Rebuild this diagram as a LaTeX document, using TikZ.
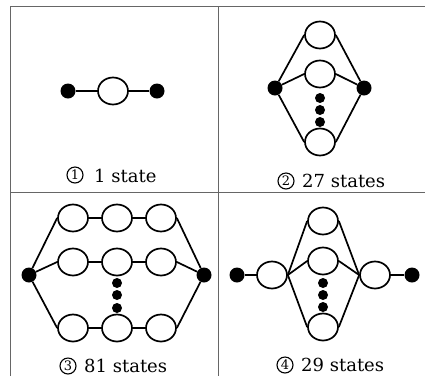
\documentclass[tikz,border=0pt]{standalone}
\usepackage{fontspec}
\setmainfont{DejaVu Serif}
\usetikzlibrary{shapes.geometric}
\begin{document}
\begin{tikzpicture}[x=1pt,y=-1pt,
  frame/.style={draw=black!60,line width=0.8pt},
  stnode/.style={ellipse,draw,line width=1.7pt,minimum width=30pt,minimum height=27pt,inner sep=0pt,fill=white},
  endnode/.style={circle,fill=black,minimum size=15pt,inner sep=0pt},
  smalldot/.style={circle,fill=black,minimum size=10pt,inner sep=0pt},
  conn/.style={draw,line width=1.7pt},
  numcirc/.style={circle,draw,line width=1.1pt,minimum size=16pt,inner sep=0pt,font=\fontsize{13}{13}\selectfont},
  lbl/.style={anchor=base west,inner sep=0pt,font=\fontsize{18}{20}\selectfont}]
\useasboundingbox (0,0) rectangle (425,376);
% frame
\draw[frame] (10,376) -- (10,6) -- (425,6);
\draw[frame] (218,6) -- (218,376);
\draw[frame] (10,192) -- (425,192);

% panel 1
\node[endnode] (d1a) at (68,91) {};
\node[stnode] (c1) at (113,91) {};
\node[endnode] (d1b) at (157,91) {};
\draw[conn] (d1a) -- (c1.west);
\draw[conn] (c1.east) -- (d1b);
\node[numcirc] (n1) at (75,175) {1};
\node[lbl] (t1) at (94,182) {1 state};

% panel 2
\node[endnode] (d2a) at (275,88) {};
\node[endnode] (d2b) at (364,88) {};
\node[stnode] (c2a) at (320,35) {};
\node[stnode] (c2b) at (320,74) {};
\node[stnode] (c2c) at (320,142) {};
\node[smalldot] (p2a) at (320,98) {};
\node[smalldot] (p2b) at (320,110) {};
\node[smalldot] (p2c) at (320,122) {};
\foreach \c in {c2a,c2b,c2c}{
  \draw[conn] (d2a) -- (\c.west);
  \draw[conn] (\c.east) -- (d2b);
}
\node[numcirc] (n2) at (286,181) {2};
\node[lbl] (t2) at (302,187) {27 states};

% panel 3
\node[endnode] (d3a) at (29,275) {};
\node[endnode] (d3b) at (204,275) {};
\foreach \r/\y in {a/218,b/262,c/328}{
  \node[stnode] (c3\r1) at (73,\y) {};
  \node[stnode] (c3\r2) at (117,\y) {};
  \node[stnode] (c3\r3) at (161,\y) {};
  \draw[conn] (d3a) -- (c3\r1.west);
  \draw[conn] (c3\r1.east) -- (c3\r2.west);
  \draw[conn] (c3\r2.east) -- (c3\r3.west);
  \draw[conn] (c3\r3.east) -- (d3b);
}
\node[smalldot] (p3a) at (117,283) {};
\node[smalldot] (p3b) at (117,295) {};
\node[smalldot] (p3c) at (117,308) {};
\node[numcirc] (n3) at (68,366) {3};
\node[lbl] (t3) at (84,372) {81 states};

% panel 4
\node[endnode] (d4a) at (237,275) {};
\node[stnode] (c4l) at (272,275) {};
\node[stnode] (c4a) at (323,221) {};
\node[stnode] (c4b) at (323,261) {};
\node[stnode] (c4c) at (323,327) {};
\node[stnode] (c4r) at (375,275) {};
\node[endnode] (d4b) at (412,275) {};
\node[smalldot] (p4a) at (323,283) {};
\node[smalldot] (p4b) at (323,295) {};
\node[smalldot] (p4c) at (323,307) {};
\draw[conn] (d4a) -- (c4l.west);
\draw[conn] (c4r.east) -- (d4b);
\foreach \c in {c4a,c4b,c4c}{
  \draw[conn] (c4l.east) -- (\c.west);
  \draw[conn] (\c.east) -- (c4r.west);
}
\node[numcirc] (n4) at (285,365) {4};
\node[lbl] (t4) at (301,371) {29 states};
\end{tikzpicture}
\end{document}
